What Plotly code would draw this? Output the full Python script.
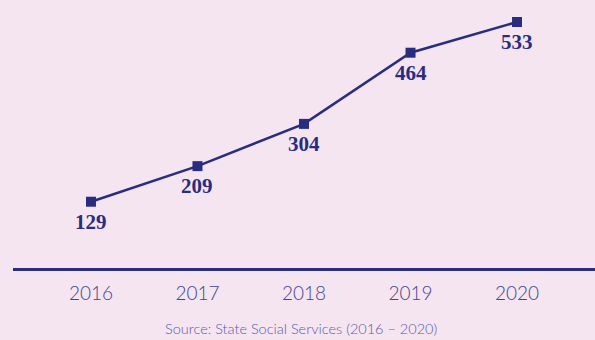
import plotly.graph_objects as go

years = ["2016", "2017", "2018", "2019", "2020"]
values = [129, 209, 304, 464, 533]
x_idx = list(range(len(years)))

navy = "#2a2c80"
bg = "#f5e5f1"

fig = go.Figure()
fig.add_trace(go.Scatter(
    x=x_idx, y=values, mode="lines+markers",
    line=dict(color=navy, width=2.5),
    marker=dict(symbol="square", size=10, color=navy),
    cliponaxis=False,
    hoverinfo="skip",
))

for xi, v in zip(x_idx, values):
    fig.add_annotation(
        x=xi, y=v, xref="x", yref="y", text=str(v),
        showarrow=False, yanchor="middle", xanchor="center", yshift=-20,
        font=dict(family="Liberation Serif", size=21, color=navy, weight="bold"),
    )

fig.update_layout(
    width=595, height=340,
    paper_bgcolor=bg, plot_bgcolor=bg,
    margin=dict(l=13, r=0, t=10, b=72),
    showlegend=False,
    xaxis=dict(
        range=[-0.732, 4.732],
        tickvals=x_idx, ticktext=years,
        showgrid=False, zeroline=False,
        showline=True, linecolor=navy, linewidth=2.5,
        ticks="", ticklen=0, ticklabelstandoff=6,
        tickfont=dict(family="Lato", size=19, color="#43448f", weight=300),
    ),
    yaxis=dict(range=[-20, 560], visible=False, showgrid=False, zeroline=False),
)
fig.add_annotation(
    text="Source: State Social Services (2016 – 2020)",
    x=(301 - 13) / 582, xref="paper", y=-(328 - 268) / 258, yref="paper",
    yanchor="middle", xanchor="center", showarrow=False,
    font=dict(family="Lato", size=14.5, color="#5a5aa5", weight=300),
)

fig.write_html("out.html")
